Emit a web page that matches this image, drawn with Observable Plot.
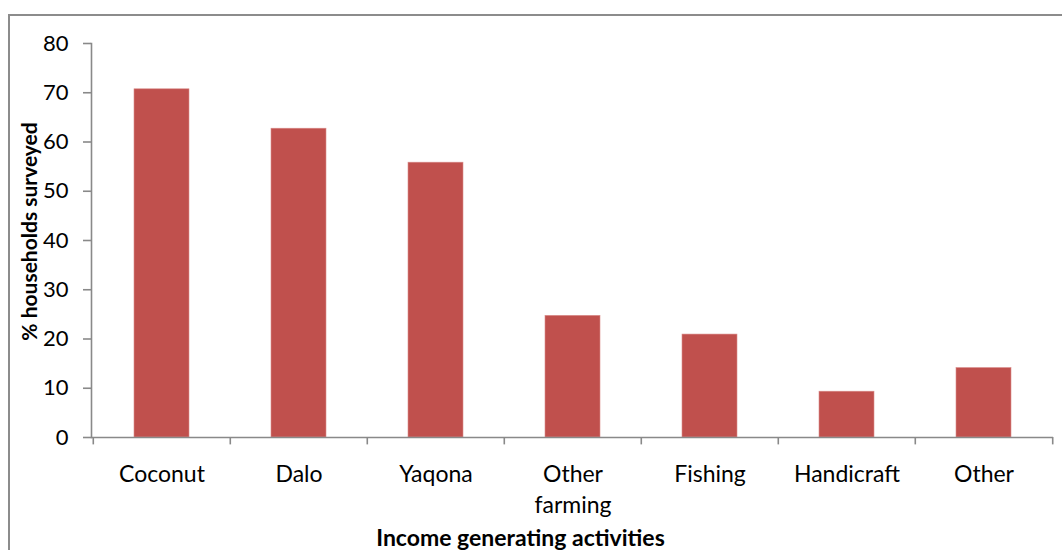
<!DOCTYPE html>
<html>
<head>
<meta charset="utf-8">
<script src="https://cdn.jsdelivr.net/npm/d3@7"></script>
<script src="https://cdn.jsdelivr.net/npm/@observablehq/plot@0.6"></script>
<style>
  html, body { margin: 0; padding: 0; background: #fff; overflow: hidden; }
  #wrap { position: relative; width: 1062px; height: 550px; }
  #frame { position: absolute; left: 8px; top: 14px; width: 1100px; height: 600px; border: 2px solid #8c8c8c; box-sizing: border-box; pointer-events: none; }
  #chart { position: absolute; left: 0; top: 0; }
</style>
</head>
<body>
<div id="wrap">
  <div id="frame"></div>
  <div id="chart"></div>
</div>
<script>
const categories = ["Coconut", "Dalo", "Yaqona", "Other farming", "Fishing", "Handicraft", "Other"];
const categoryLabels = ["Coconut", "Dalo", "Yaqona", "Other\nfarming", "Fishing", "Handicraft", "Other"];
const values = [70.7, 62.7, 55.8, 24.7, 20.9, 9.3, 14.1];
const yTicks = [0, 10, 20, 30, 40, 50, 60, 70, 80];
const xTitle = "Income generating activities";
const yTitle = "% households surveyed";

const data = categories.map((c, i) => ({category: c, label: categoryLabels[i], value: values[i]}));

const W = 1062, H = 550, mL = 91, mR = 9, mT = 43, mB = 113;
const step = (W - mL - mR) / categories.length;
const font = "Lato, 'Open Sans', sans-serif";
const axisColor = "#898989";

const chart = Plot.plot({
  width: W,
  height: H,
  marginLeft: mL,
  marginRight: mR,
  marginTop: mT,
  marginBottom: mB,
  style: {fontFamily: font, fontSize: "22px", color: "#000", background: "transparent", overflow: "visible"},
  x: {domain: categories, paddingInner: 0.6, paddingOuter: 0.3, axis: null},
  y: {domain: [0, 80], axis: null},
  marks: [
    Plot.barY(data, {x: "category", y: "value", fill: "#C0504D", stroke: "#d98c8a", strokeWidth: 0.6}),
    // y axis
    Plot.frame({anchor: "left", stroke: axisColor, strokeWidth: 1.6}),
    Plot.tickY(yTicks, {y: d => d, stroke: axisColor, strokeWidth: 1.6, render: (index, scales, values, dims, context, next) => {
      const g = next(index, scales, values, dims, context);
      d3.select(g).selectAll("line").attr("x1", dims.marginLeft - 8).attr("x2", dims.marginLeft);
      return g;
    }}),
    Plot.text(yTicks, {y: d => d, text: d => String(d), frameAnchor: "left", textAnchor: "end", dx: -23, fontSize: 22, fill: "#000"}),
    // x axis
    Plot.ruleY([0], {stroke: axisColor, strokeWidth: 1.6}),
    Plot.ruleX(categories, {x: d => d, dx: -step / 2, y1: 0, y2: -1.5, stroke: axisColor, strokeWidth: 1.6}),
    Plot.ruleX(categories.slice(-1), {x: d => d, dx: step / 2, y1: 0, y2: -1.5, stroke: axisColor, strokeWidth: 1.6}),
    Plot.text(data, {x: "category", y: 0, text: "label", lineAnchor: "top", dy: 22, lineHeight: 1.36, fontSize: 23, fill: "#000"}),
    // axis titles
    Plot.text([xTitle], {frameAnchor: "bottom", textAnchor: "middle", dy: 108, dx: -52, lineAnchor: "bottom", text: d => d, fontWeight: "bold", fontSize: 23, fill: "#000"}),
    Plot.text([yTitle], {frameAnchor: "left", textAnchor: "middle", rotate: -90, dx: -61, dy: -9, text: d => d, fontWeight: "bold", fontSize: 21, fill: "#000"})
  ]
});
document.getElementById("chart").appendChild(chart);
</script>
</body>
</html>
